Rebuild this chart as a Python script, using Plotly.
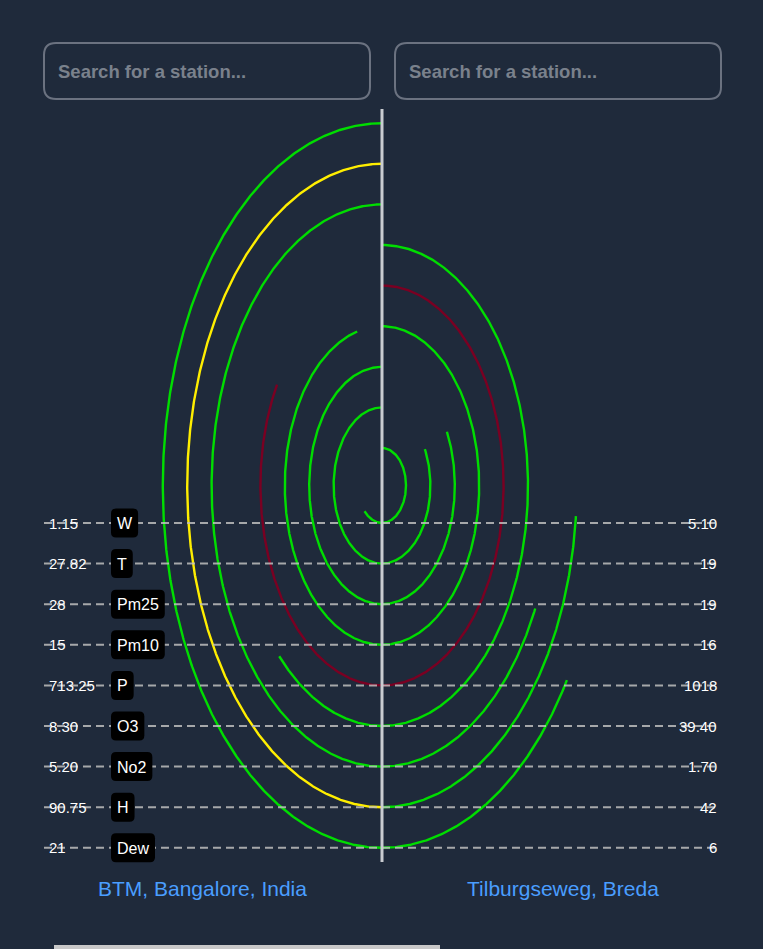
import math
import plotly.graph_objects as go

# ---------------- data ----------------
metrics = ["W", "T", "Pm25", "Pm10", "P", "O3", "No2", "H", "Dew"]
left_station = "BTM, Bangalore, India"
right_station = "Tilburgseweg, Breda"
left_values = ["1.15", "27.82", "28", "15", "713.25", "8.30", "5.20", "90.75", "21"]
right_values = ["5.10", "19", "19", "16", "1018", "39.40", "1.70", "42", "6"]
left_colors = ["#00dd00", "#00dd00", "#00dd00", "#00dd00", "#7a0022",
               "#00dd00", "#00dd00", "#ffee00", "#00dd00"]
right_colors = ["#00dd00", "#00dd00", "#00dd00", "#00dd00", "#7a0022",
                "#00dd00", "#00dd00", "#00dd00", "#00dd00"]

# ---------------- geometry (pixel-like space) ----------------
W, H = 763, 949
BG = "#1f2a3b"
CX, CY = 382, 485.5
ROW0, ROW = 523, 40.6
RY0 = 37.5
RX0, RXSTEP = 24, 24.4
FONT = "Liberation Sans, Arial, sans-serif"

# Arial advance widths (em) for the badge texts
CHAR_W = {"W": .944, "T": .611, "P": .667, "m": .833, "2": .556, "5": .556,
          "1": .556, "0": .556, "O": .778, "3": .556, "N": .722, "o": .556,
          "H": .722, "D": .722, "e": .556, "w": .722}

fig = go.Figure()


def arc(i, frac, side):
    """Half ellipse from bottom to top, cut at a fraction of its length."""
    ry = RY0 + ROW * i
    rx = RX0 + RXSTEP * i
    n = 600
    pts = [(CX + side * rx * math.sin(math.pi * k / n),
            CY + ry * math.cos(math.pi * k / n)) for k in range(n + 1)]
    cum = [0.0]
    for a, b in zip(pts[:-1], pts[1:]):
        cum.append(cum[-1] + math.hypot(b[0] - a[0], b[1] - a[1]))
    target = cum[-1] * frac
    xs, ys = [], []
    for k, p in enumerate(pts):
        if cum[k] <= target + 1e-9:
            xs.append(p[0]); ys.append(p[1])
        else:
            a = pts[k - 1]
            t = (target - cum[k - 1]) / (cum[k] - cum[k - 1])
            xs.append(a[0] + t * (p[0] - a[0])); ys.append(a[1] + t * (p[1] - a[1]))
            break
    return xs, ys


for i, m in enumerate(metrics):
    lv, rv = float(left_values[i]), float(right_values[i])
    mx = max(lv, rv)
    for val, side, cols in ((lv, -1, left_colors), (rv, 1, right_colors)):
        xs, ys = arc(i, val / mx, side)
        fig.add_trace(go.Scatter(x=xs, y=ys, mode="lines",
                                 line=dict(color=cols[i], width=2.4),
                                 hoverinfo="skip", showlegend=False))

# dashed guide lines
for i, m in enumerate(metrics):
    y = ROW0 + ROW * i
    fig.add_trace(go.Scatter(x=[44, 720], y=[y, y], mode="lines",
                             line=dict(color="rgba(190,190,190,0.85)", width=2, dash="8px,5px"),
                             hoverinfo="skip", showlegend=False))

# center line
fig.add_trace(go.Scatter(x=[CX, CX], y=[109, 862], mode="lines",
                         line=dict(color="#c9ccd1", width=3),
                         hoverinfo="skip", showlegend=False))


def rounded_rect(x0, y0, x1, y1, r):
    return (f"M {x0+r},{y0} L {x1-r},{y0} Q {x1},{y0} {x1},{y0+r} "
            f"L {x1},{y1-r} Q {x1},{y1} {x1-r},{y1} L {x0+r},{y1} "
            f"Q {x0},{y1} {x0},{y1-r} L {x0},{y0+r} Q {x0},{y0} {x0+r},{y0} Z")


annotations = []
shapes = []
BADGE_FS = 16
for i, m in enumerate(metrics):
    y = ROW0 + ROW * i
    annotations.append(dict(x=47, y=y, text=left_values[i], showarrow=False,
                            xanchor="left", yanchor="middle",
                            font=dict(color="white", size=15, family=FONT)))
    annotations.append(dict(x=719, y=y, text=right_values[i], showarrow=False,
                            xanchor="right", yanchor="middle",
                            font=dict(color="white", size=15, family=FONT)))
    tw = sum(CHAR_W.get(c, .6) for c in m) * BADGE_FS
    bw = tw + 12
    shapes.append(dict(type="path", path=rounded_rect(111, y - 14.5, 111 + bw, y + 14.5, 5),
                       line=dict(width=0), fillcolor="black", xref="x", yref="y",
                       layer="above"))
    annotations.append(dict(x=111 + bw / 2, y=y + 0.5, text=m, showarrow=False,
                            xanchor="center", yanchor="middle",
                            font=dict(color="white", size=BADGE_FS, family=FONT)))

annotations.append(dict(x=202, y=888, text=left_station, showarrow=False,
                        xanchor="center", yanchor="middle",
                        font=dict(color="#4a9eff", size=21, family=FONT)))
annotations.append(dict(x=563, y=888, text=right_station, showarrow=False,
                        xanchor="center", yanchor="middle",
                        font=dict(color="#4a9eff", size=21, family=FONT)))

for (x0, x1) in ((44, 370), (395, 721)):
    shapes.append(dict(type="path", path=rounded_rect(x0, 43, x1, 99, 12),
                       line=dict(color="#6b7280", width=2), fillcolor=BG,
                       xref="x", yref="y", layer="below"))
    annotations.append(dict(x=x0 + 12, y=71, text="<b>Search for a station...</b>",
                            showarrow=False, xanchor="left", yanchor="middle",
                            font=dict(color="#7a818c", size=18.5, family=FONT)))

# scrollbar at bottom
shapes.append(dict(type="rect", x0=54, x1=440, y0=945, y1=949,
                   line=dict(width=0), fillcolor="#c8c8c8", xref="x", yref="y"))

fig.update_layout(
    width=W, height=H,
    margin=dict(l=0, r=0, t=0, b=0),
    paper_bgcolor=BG, plot_bgcolor=BG,
    xaxis=dict(range=[0, W], visible=False, fixedrange=True),
    yaxis=dict(range=[H, 0], visible=False, fixedrange=True),
    annotations=annotations, shapes=shapes,
    showlegend=False,
)

fig.write_html("out.html")
